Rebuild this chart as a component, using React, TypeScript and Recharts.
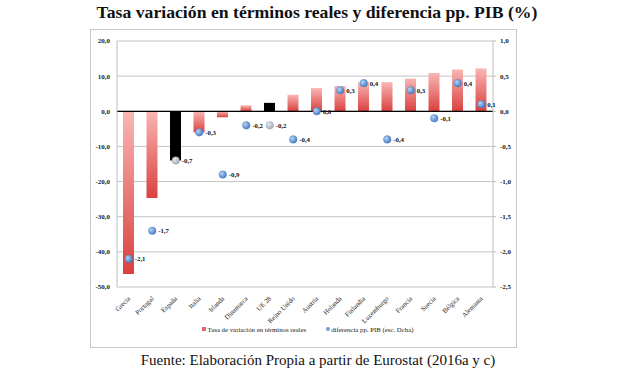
import React from 'react';
import {
  ComposedChart, Bar, Scatter, XAxis, YAxis, CartesianGrid, ReferenceLine, Cell, Legend,
} from 'recharts';

const categories = ['Grecia', 'Portugal', 'España', 'Italia', 'Irlanda', 'Dinamarca', 'UE 28', 'Reino Unido', 'Austria', 'Holanda', 'Finlandia', 'Luxemburgo', 'Francia', 'Suecia', 'Bélgica', 'Alemania'];
const tasaVariacion = [-46.3, -24.7, -14.0, -6.0, -1.7, 1.7, 2.4, 4.7, 6.6, 7.2, 8.3, 8.3, 9.3, 10.9, 11.9, 12.2];
const diferenciaPIB = [-2.1, -1.7, -0.7, -0.3, -0.9, -0.2, -0.2, -0.4, 0.0, 0.3, 0.4, -0.4, 0.3, -0.1, 0.4, 0.1];
const highlighted = ['España', 'UE 28'];
const leftTicks = [20, 10, 0, -10, -20, -30, -40, -50];
const rightTicks = [1, 0.5, 0, -0.5, -1, -1.5, -2, -2.5];

const data = categories.map((name, i) => ({
  name,
  tasa: tasaVariacion[i],
  diff: diferenciaPIB[i],
  hl: highlighted.includes(name),
}));

const SERIF = '"Liberation Serif", "DejaVu Serif", serif';
const fmt = (v: number) => v.toFixed(1).replace('.', ',');

const XTick = (props: any) => {
  const { x, y, payload } = props;
  return (
    <text
      x={x + 2}
      y={y + 4}
      transform={`rotate(-45 ${x + 2} ${y + 4})`}
      textAnchor="end"
      fontFamily={SERIF}
      fontSize={6.8}
      fill="#1a1a1a"
    >
      {payload.value}
    </text>
  );
};

const DotShape = (props: any) => {
  const { cx, cy, payload } = props;
  if (cx == null || cy == null) return null;
  const grad = payload.hl ? 'url(#grayDot)' : 'url(#blueDot)';
  return (
    <g>
      <circle cx={cx} cy={cy} r={3.8} fill={grad} stroke={payload.hl ? '#9aa6b2' : '#4a7cc0'} strokeWidth={0.4} />
      <text x={cx + 6} y={cy + 2.5} fontFamily={SERIF} fontSize={6.8} fontWeight="bold" fill="#111">
        {fmt(payload.diff)}
      </text>
    </g>
  );
};

const renderLegend = () => (
  <div style={{ display: 'flex', justifyContent: 'center', alignItems: 'center', fontFamily: SERIF, fontSize: 6.8, color: '#1a1a1a', height: 12, paddingLeft: 8 }}>
    <span style={{ display: 'inline-block', width: 4, height: 4, background: '#e06666', marginRight: 2 }} />
    <span style={{ marginRight: 20 }}>Tasa de variación en términos reales</span>
    <span style={{ display: 'inline-block', width: 4, height: 4, borderRadius: 2, background: '#6f9fdc', marginRight: 1 }} />
    <span>diferencia pp. PIB (esc. Dcha)</span>
  </div>
);

const tickStyle = { fontFamily: SERIF, fontSize: 7, fill: '#1a1a1a', fontWeight: 'bold' as const };

export default function App() {
  return (
    <div style={{ position: 'absolute', left: 0, top: 0, width: 620, height: 368, background: '#fff', overflow: 'hidden' }}>
      <div style={{ position: 'absolute', left: 0, top: 2, width: 634, textAlign: 'center', fontFamily: SERIF, fontWeight: 'bold', fontSize: 17.7, color: '#111', whiteSpace: 'nowrap' }}>
        Tasa variación en términos reales y diferencia pp. PIB (%)
      </div>
      <div style={{ position: 'absolute', left: 90, top: 29, width: 425, height: 317, border: '1px solid #c8c8c8' }}>
        <ComposedChart
          width={425}
          height={317}
          data={data}
          margin={{ top: 11, right: 0, bottom: 8, left: 0 }}
          barSize={11}
        >
          <defs>
            <linearGradient id="redBar" x1="0" y1="0" x2="0" y2="1">
              <stop offset="0%" stopColor="#f9b6b4" />
              <stop offset="100%" stopColor="#d9413e" />
            </linearGradient>
            <radialGradient id="blueDot" cx="35%" cy="35%" r="70%">
              <stop offset="0%" stopColor="#b7d4f5" />
              <stop offset="100%" stopColor="#3f78c6" />
            </radialGradient>
            <radialGradient id="grayDot" cx="35%" cy="35%" r="70%">
              <stop offset="0%" stopColor="#e6eaee" />
              <stop offset="100%" stopColor="#9ea9b4" />
            </radialGradient>
          </defs>
          <CartesianGrid yAxisId="left" vertical={false} stroke="#c4c4c4" strokeWidth={1} />
          <XAxis
            dataKey="name"
            interval={0}
            height={36}
            tick={<XTick />}
            tickLine={false}
            axisLine={false}
          />
          <YAxis
            yAxisId="left"
            domain={[-50, 20]}
            ticks={leftTicks}
            width={26}
            tickFormatter={fmt}
            tick={tickStyle}
            tickLine={false}
            tickSize={5}
            tickMargin={2}
            axisLine={{ stroke: '#bdbdbd' }}
            allowDataOverflow
          />
          <YAxis
            yAxisId="right"
            orientation="right"
            domain={[-2.5, 1]}
            ticks={rightTicks}
            width={23}
            tickFormatter={fmt}
            tick={tickStyle}
            tickLine={{ stroke: '#bdbdbd' }}
            tickSize={3}
            tickMargin={4}
            axisLine={{ stroke: '#bdbdbd' }}
            allowDataOverflow
          />
          <Bar yAxisId="left" dataKey="tasa" name="Tasa de variación en términos reales" isAnimationActive={false}>
            {data.map((d) => (
              <Cell key={d.name} fill={d.hl ? '#000' : 'url(#redBar)'} />
            ))}
          </Bar>
          <ReferenceLine yAxisId="left" y={0} stroke="#000" strokeWidth={1.3} />
          <Scatter yAxisId="right" dataKey="diff" name="diferencia pp. PIB (esc. Dcha)" shape={<DotShape />} isAnimationActive={false} />
          <Legend verticalAlign="bottom" height={16} content={renderLegend} />
        </ComposedChart>
      </div>
      <div style={{ position: 'absolute', left: 0, top: 352, width: 636, textAlign: 'center', fontFamily: SERIF, fontSize: 15, color: '#111', whiteSpace: 'nowrap' }}>
        Fuente: Elaboración Propia a partir de Eurostat (2016a y c)
      </div>
    </div>
  );
}
